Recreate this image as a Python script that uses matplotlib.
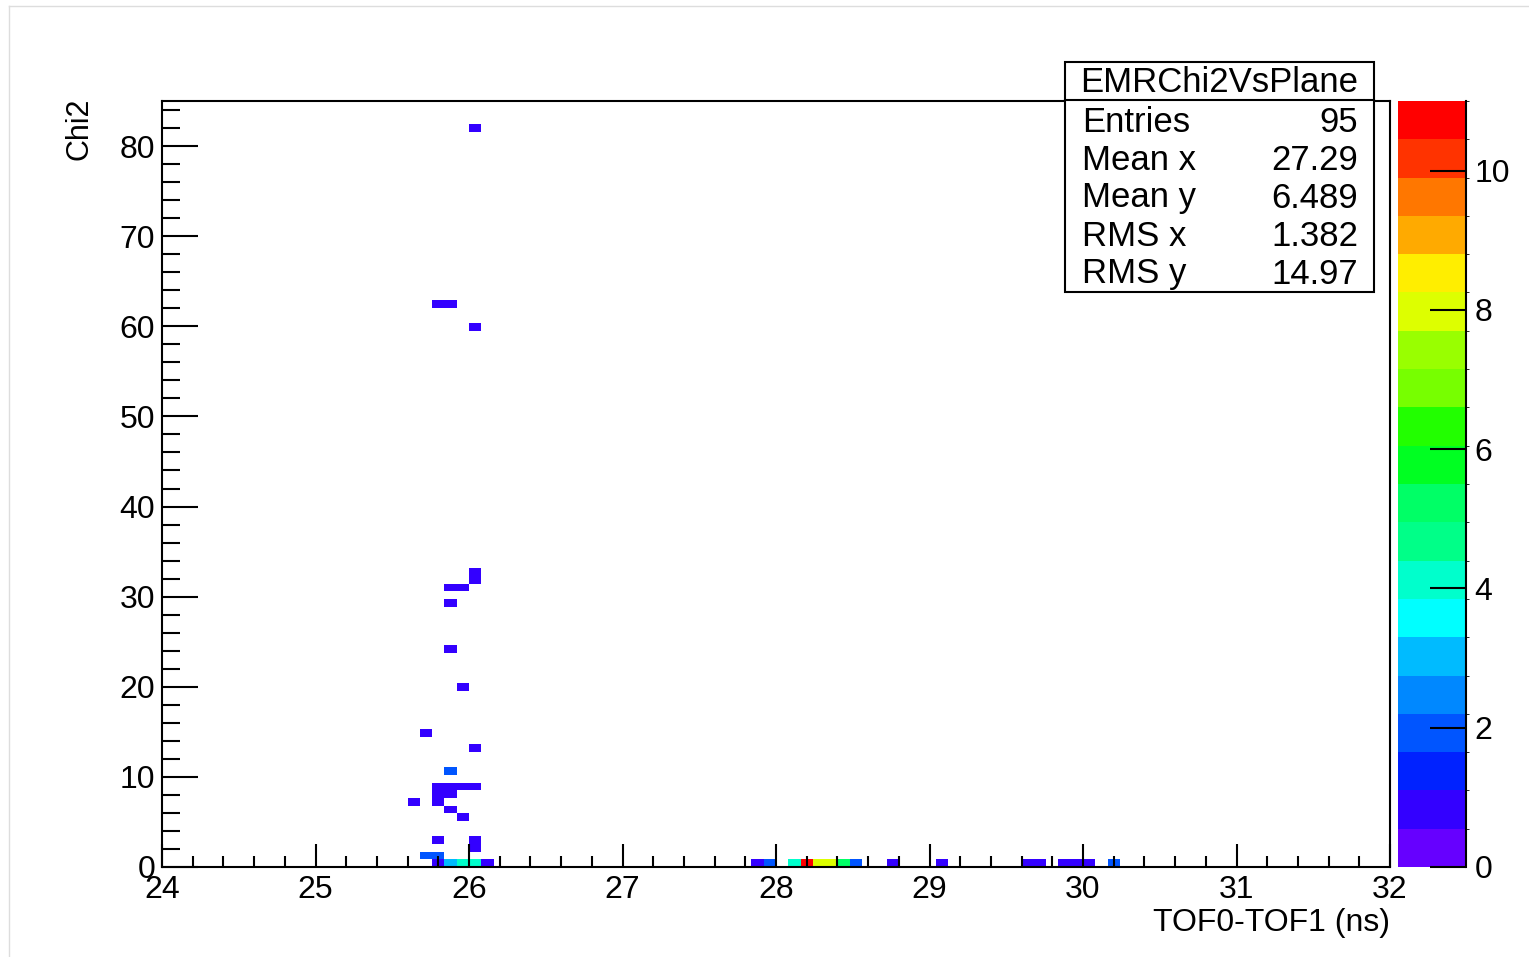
import matplotlib
matplotlib.use("Agg")
import matplotlib.pyplot as plt
from matplotlib.colors import ListedColormap, BoundaryNorm
from matplotlib.patches import Rectangle
from matplotlib.lines import Line2D
from matplotlib.ticker import MultipleLocator
import numpy as np

plt.rcParams['font.family'] = ['Liberation Sans', 'DejaVu Sans']

# filled cells of the histogram: bin centres and counts
x_vals = [26.04, 25.80, 25.88, 26.04, 26.04, 26.04, 25.88, 25.96, 25.88, 25.88,
          25.96, 25.72, 26.04, 25.88, 25.80, 25.88, 25.96, 26.04, 25.80, 25.88,
          25.64, 25.80, 25.88, 25.96, 25.80, 26.04, 26.04, 25.72, 25.80,
          25.80, 25.88, 25.96, 26.04, 26.12,
          27.88, 27.96, 28.12, 28.20, 28.28, 28.36, 28.44, 28.52, 28.76, 29.08,
          29.64, 29.72, 29.88, 29.96, 30.04, 30.20]
y_vals = [82.0, 62.5, 62.5, 59.9, 32.7, 31.9, 31.0, 31.0, 29.3, 24.2,
          20.0, 14.9, 13.2, 10.6, 8.9, 8.9, 8.9, 8.9, 8.1, 8.1,
          7.2, 7.2, 6.4, 5.5, 3.0, 3.0, 2.1, 1.3, 1.3,
          0.4, 0.4, 0.4, 0.4, 0.4,
          0.4, 0.4, 0.4, 0.4, 0.4, 0.4, 0.4, 0.4, 0.4, 0.4,
          0.4, 0.4, 0.4, 0.4, 0.4, 0.4]
counts = [1, 1, 1, 1, 1, 1, 1, 1, 1, 1,
          1, 1, 1, 2, 1, 1, 1, 1, 1, 1,
          1, 1, 1, 1, 1, 1, 1, 2, 2,
          1, 3, 4, 4, 1,
          1, 2, 4, 11, 8, 8, 5, 2, 1, 1,
          1, 1, 1, 1, 1, 2]

stat_names = ["Entries", "Mean x", "Mean y", "RMS x", "RMS y"]
stat_values = ["95", "27.29", "6.489", "1.382", "14.97"]

palette = ["#6600ff", "#3300ff", "#0022ff", "#0055ff", "#0088ff",
           "#00bbff", "#00ffff", "#00ffcc", "#00ff88", "#00ff66",
           "#00ff22", "#22ff00", "#77ff00", "#99ff00", "#ddff00",
           "#ffee00", "#ffaa00", "#ff7700", "#ff3300", "#ff0000"]

x_edges = np.linspace(24, 32, 101)
y_edges = np.linspace(0, 85, 101)
H, _, _ = np.histogram2d(x_vals, y_vals, bins=[x_edges, y_edges], weights=counts)
H = np.ma.masked_equal(H.T, 0)

zmax = 11
levels = np.linspace(0, zmax, len(palette) + 1)
cmap = ListedColormap(palette)
norm = BoundaryNorm(levels, cmap.N)

W, Hpx = 1529, 957
fig = plt.figure(figsize=(W / 100, Hpx / 100), dpi=100)

ax = fig.add_axes([162 / W, 1 - 867 / Hpx, (1390 - 162) / W, (867 - 101) / Hpx])
mesh = ax.pcolormesh(x_edges, y_edges, H, cmap=cmap, norm=norm)
ax.set_xlim(24, 32)
ax.set_ylim(0, 85)
for s in ax.spines.values():
    s.set_linewidth(1.5)
ax.xaxis.set_major_locator(MultipleLocator(1))
ax.xaxis.set_minor_locator(MultipleLocator(0.2))
ax.yaxis.set_major_locator(MultipleLocator(10))
ax.yaxis.set_minor_locator(MultipleLocator(2))
ax.tick_params(axis='x', which='major', direction='in', length=16.5, width=1.5,
               labelsize=23, pad=6, top=False)
ax.tick_params(axis='x', which='minor', direction='in', length=8, width=1.5, top=False)
ax.tick_params(axis='y', which='major', direction='in', length=26, width=1.5,
               labelsize=23, pad=5, right=False)
ax.tick_params(axis='y', which='minor', direction='in', length=13, width=1.5, right=False)

ax.set_xlabel("TOF0-TOF1 (ns)", fontsize=23, loc='right')
ax.xaxis.set_label_coords(1.0, -0.053)
ax.set_ylabel("Chi2", fontsize=22, loc='top')
ax.yaxis.set_label_coords(-0.055, 1.004)

# colour scale
cax = fig.add_axes([1398 / W, 1 - 867 / Hpx, (1466 - 1398) / W, (867 - 101) / Hpx])
cb = fig.colorbar(mesh, cax=cax, ticks=range(0, 11, 2))
cb.outline.set_visible(False)
cax.tick_params(direction='in', length=26, width=1.5, labelsize=23, pad=6)
cax.add_line(Line2D([1, 1], [0, 1], transform=cax.transAxes, color='black',
                    linewidth=1.5, clip_on=False))

# stats box
bx0, bx1 = 1065 / W, 1374 / W
by0, by1 = 1 - 292 / Hpx, 1 - 62 / Hpx
fig.add_artist(Rectangle((bx0, by0), bx1 - bx0, by1 - by0, transform=fig.transFigure,
                         facecolor='white', edgecolor='black', linewidth=1.5, zorder=5))
fig.add_artist(Line2D([bx0, bx1], [1 - 100 / Hpx] * 2, transform=fig.transFigure,
                      color='black', linewidth=1.5, zorder=6))
fig.text((bx0 + bx1) / 2, 1 - 83 / Hpx, "EMRChi2VsPlane", fontsize=25,
         ha='center', va='center', zorder=7)
row_y = [122, 160, 198, 237, 274]
for name, val, ry in zip(stat_names, stat_values, row_y):
    fig.text(1082 / W, 1 - ry / Hpx, name, fontsize=25, ha='left', va='center', zorder=7)
    fig.text(1358 / W, 1 - ry / Hpx, val, fontsize=25, ha='right', va='center', zorder=7)

# faint canvas border
fig.add_artist(Line2D([9 / W, 9 / W], [0, 1 - 6 / Hpx], transform=fig.transFigure,
                      color='#dddddd', linewidth=1))
fig.add_artist(Line2D([9 / W, 1], [1 - 6 / Hpx] * 2, transform=fig.transFigure,
                      color='#dddddd', linewidth=1))

fig.savefig("out.png", dpi=100)
